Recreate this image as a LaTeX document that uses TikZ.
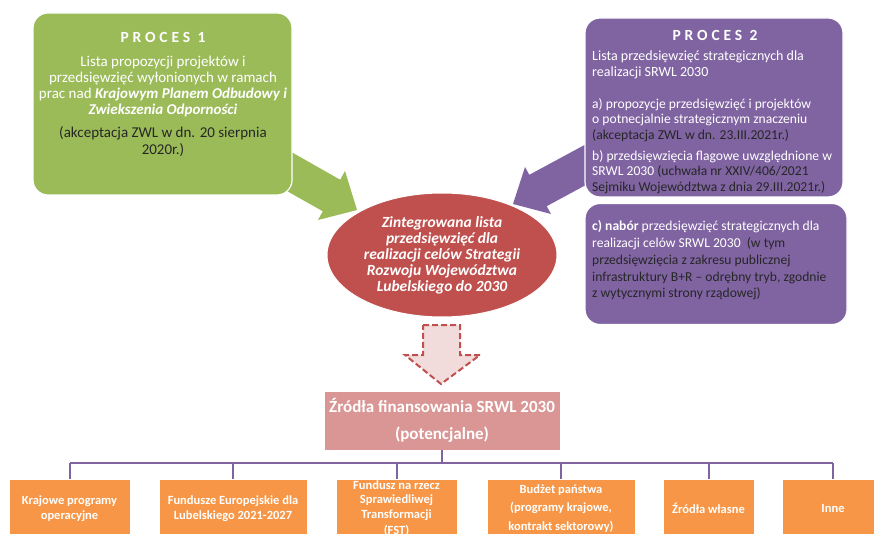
\documentclass[tikz,border=0pt]{standalone}
\usepackage{fontspec}
\setmainfont{Carlito}
\usetikzlibrary{shapes.geometric}
\definecolor{zielony}{HTML}{9BBB59}
\definecolor{fiolet}{HTML}{8064A2}
\definecolor{czerwony}{HTML}{C0504D}
\definecolor{rozowy}{HTML}{D99694}
\definecolor{jasnyroz}{HTML}{F2DCDB}
\definecolor{pomarancz}{HTML}{F79646}
\definecolor{ciemny}{HTML}{262626}
\def\naglowek#1{{\bfseries\fontsize{15.5}{18}\selectfont\addfontfeature{LetterSpace=25}#1}}
\tikzset{
	procbox/.style={draw=white, line width=1.2pt, rounded corners=15pt, inner sep=0pt},
	txt/.style={inner sep=0pt, font=\fontsize{15}{16}\selectfont},
	ptxt/.style={inner sep=0pt, text=white, align=left, anchor=west},
	finbox/.style={fill=pomarancz, draw=white, line width=0.8pt, minimum height=59, inner sep=0pt, align=center, text=white, font=\bfseries\fontsize{12.5}{14.5}\selectfont},
	tree/.style={fiolet, line width=2pt}
}

\begin{document}
\begin{tikzpicture}[x=1pt, y=-1pt]
			%%%%% START %%%%%
			\clip (0,0) rectangle (874,534);
			
			% grube strzalki do elipsy
			\fill[zielony] (279,145) -- (340.2,179.75) -- (345,171) -- (357,210) -- (318,220) -- (322.8,211.25) -- (262,177) -- cycle;
			\fill[fiolet] (591,141.5) -- (529.3,174.8) -- (525,167) -- (513,204) -- (551,214) -- (546.7,206.2) -- (608,173) -- cycle;
			
			% PROCES 1
			\node[procbox, fill=zielony, minimum width=259, minimum height=182] (p1box) at (162.5,104) {};
			\node[inner sep=0pt, text=white] (p1head) at (163,37) {\naglowek{PROCES 1}};
			\node[txt, text=white, align=center] (p1text) at (163,86) {Lista propozycji projektów i\\przedsięwzięć wyłonionych w ramach\\prac nad \textbf{\textit{Krajowym Planem Odbudowy i}}\\\textbf{\textit{Zwiekszenia Odporności}}};
			\node[txt, text=ciemny, align=center, font=\fontsize{15}{17}\selectfont] (p1acc) at (163,141.5) {(akceptacja ZWL w dn. 20 sierpnia\\2020r.)};
			
			% PROCES 2
			\node[procbox, fill=fiolet, minimum width=258, minimum height=179] (p2box) at (714,107.5) {};
			\node[inner sep=0pt, text=white] (p2head) at (715,35) {\naglowek{PROCES 2}};
			\node[ptxt, font=\fontsize{14}{16}\selectfont] (p2a) at (592,65) {Lista przedsięwzięć strategicznych dla\\realizacji SRWL 2030};
			\node[ptxt, font=\fontsize{13.6}{15.3}\selectfont] (p2b) at (592,120) {a) propozycje przedsięwzięć i projektów\\o potnecjalnie strategicznym znaczeniu\\{\color{ciemny}(akceptacja ZWL w dn. 23.III.2021r.)}};
			\node[ptxt, font=\fontsize{13.6}{15.3}\selectfont] (p2c) at (592,172) {b) przedsięwzięcia flagowe uwzględnione w\\SRWL 2030 {\color{ciemny}(uchwała nr XXIV/406/2021}\\{\color{ciemny}Sejmiku Województwa z dnia 29.III.2021r.)}};
			
			\node[procbox, fill=fiolet, minimum width=262, minimum height=121] (p3box) at (716,264) {};
			\node[ptxt, font=\fontsize{13.6}{16.7}\selectfont] (p3text) at (592,260.5) {\textbf{c) nabór} przedsięwzięć strategicznych dla\\realizacji celów SRWL 2030 \ {\color{ciemny}(w tym}\\{\color{ciemny}przedsięwzięcia z zakresu publicznej}\\{\color{ciemny}infrastruktury B+R -- odrębny tryb, zgodnie}\\{\color{ciemny}z wytycznymi strony rządowej)}};
			
			% lista zintegrowana
			\node[ellipse, fill=czerwony, draw=white, line width=1pt, inner sep=0pt, minimum width=230, minimum height=124, text=white, align=center, font=\bfseries\itshape\fontsize{15.5}{16}\selectfont] (zint) at (442,255) {Zintegrowana lista\\przedsięwzięć dla\\realizacji celów Strategii\\Rozwoju Województwa\\Lubelskiego do 2030};
			
			\draw[czerwony, fill=jasnyroz, line width=2pt, dash pattern=on 6pt off 3pt] (423,325) -- (460,325) -- (460,355) -- (480,355) -- (441,384) -- (405,355) -- (423,355) -- cycle;
			
			% zrodla finansowania
			\node[fill=rozowy, draw=white, line width=0.8pt, minimum width=236, minimum height=59, inner sep=0pt, text=white, align=center, font=\bfseries\fontsize{17}{27}\selectfont] (zrodla) at (442,420.5) {Źródła finansowania SRWL 2030\\(potencjalne)};
			
			\node[finbox, minimum width=121] (fin1) at (69.5,508.5) {Krajowe programy\\operacyjne};
			\node[finbox, minimum width=148] (fin2) at (233,508.5) {Fundusze Europejskie dla\\Lubelskiego 2021-2027};
			\node[finbox, minimum width=121] (fin3) at (396.5,508.5) {Fundusz na rzecz\\Sprawiedliwej\\Transformacji\\[2pt](FST)};
			\node[finbox, minimum width=148] (fin4) at (561,508.5) {Budżet państwa\\[4pt](programy krajowe,\\[4pt]kontrakt sektorowy)};
			\node[finbox, minimum width=91] (fin5) at (708.5,508.5) {Źródła własne};
			\node[finbox, minimum width=102] (fin6) at (833,508.5) {Inne};
			
			\draw[tree] (zrodla.south) -- ++(0,13) coordinate (szyna);
			\draw[tree] (szyna -| fin1.north) -- (szyna -| fin6.north);
			\foreach \i in {1,...,6}
				\draw[tree] (szyna -| fin\i.north) -- (fin\i.north);
			
			%%%%% END %%%%%
\end{tikzpicture}
\end{document}
